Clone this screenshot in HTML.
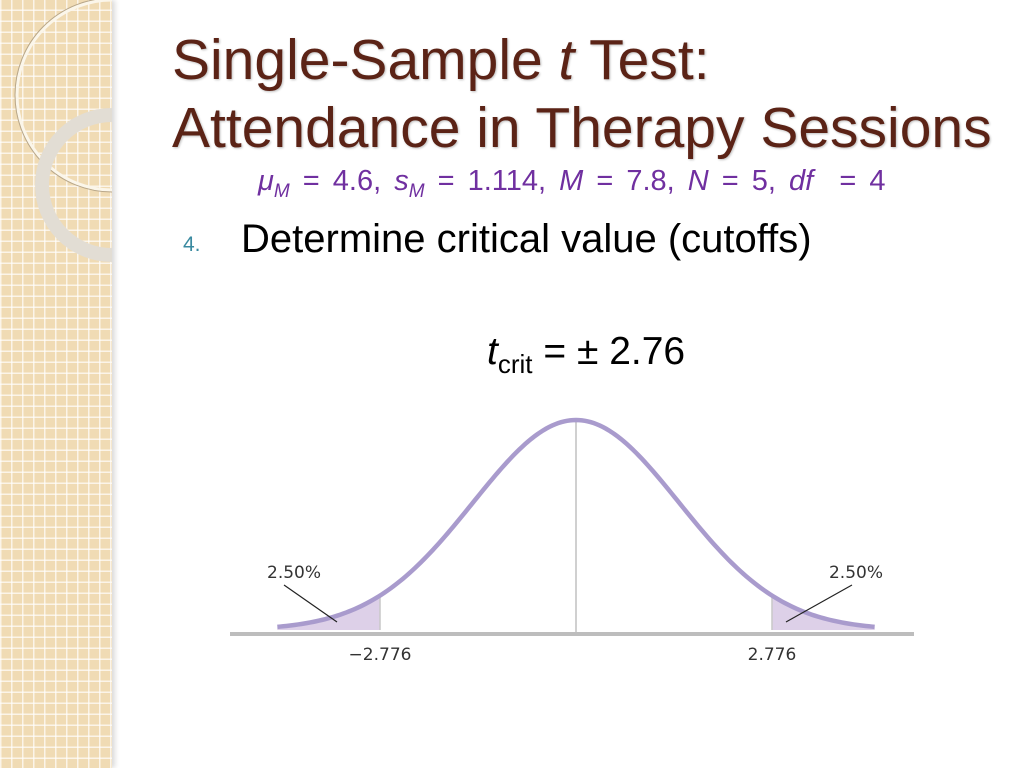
<!DOCTYPE html>
<html><head><meta charset="utf-8"><style>
body{margin:0;width:1024px;height:768px;overflow:hidden;background:#fff;font-family:"Liberation Sans",sans-serif;position:relative}
.side{position:absolute;left:0;top:0;width:112px;height:768px;background-color:#f0dbb4;
background-image:linear-gradient(90deg,rgba(255,255,255,.7) 1.5px,transparent 1.5px),linear-gradient(0deg,rgba(255,255,255,.7) 1.5px,transparent 1.5px);background-size:11px 11px;box-shadow:3px 0 5px rgba(0,0,0,.15)}
.t{position:absolute;white-space:nowrap}
</style></head><body>
<div class="side">
<svg width="112" height="768" style="position:absolute;left:0;top:0">
<circle cx="112" cy="95" r="95" fill="none" stroke="#fbf6ea" stroke-width="3"/>
<circle cx="112" cy="95" r="97" fill="none" stroke="#b8a78a" stroke-width="1"/>
<circle cx="112" cy="185" r="70" fill="none" stroke="#e2ddd4" stroke-width="14"/>
</svg></div>
<div class="t" style="left:172px;top:26px;font-size:57px;line-height:68px;color:#5b2316;text-shadow:1px 1px 2px rgba(0,0,0,.25)">Single-Sample <i>t</i> Test:<br>Attendance in Therapy Sessions</div>
<div class="t" style="left:258px;top:165px;font-size:29px;word-spacing:5px;color:#7030a0"><i>μ</i><sub style="font-size:19px"><i>M</i></sub> = 4.6, <i>s</i><sub style="font-size:19px"><i>M</i></sub> = 1.114, <i>M</i> = 7.8, <i>N</i> = 5, <i>df</i>&nbsp; = 4</div>
<div class="t" style="left:183px;top:233px;font-size:21px;color:#3a8aa0">4.</div>
<div class="t" style="left:241px;top:217px;font-size:40px;color:#000">Determine critical value (cutoffs)</div>
<div class="t" style="left:487px;top:330px;font-size:39px;color:#000"><i>t</i><sub style="font-size:26px">crit</sub> = ± 2.76</div>
<svg id="chart" width="1024" height="768" style="position:absolute;left:0;top:0"></svg>
<script>
const tCrit=[-2.776,2.776];
const tailPct=["2.50%","2.50%"];
const critLabels=["\u22122.776","2.776"];
const tRange=[-4.23,4.23];
const NS="http://www.w3.org/2000/svg";
const svg=document.getElementById("chart");
const cx=576,base=630,peak=420,pxPerT=70.6,sig=1.46;
const X=t=>cx+t*pxPerT;
const dens=t=>Math.exp(-t*t/(2*sig*sig));
const Y=t=>base-(base-peak)*dens(t);
function mk(tag,a){const e=document.createElementNS(NS,tag);for(const k in a)e.setAttribute(k,a[k]);svg.appendChild(e);return e;}
tCrit.forEach((c,i)=>{
 const end=c<0?tRange[0]:tRange[1];let d="M"+X(c)+","+base;
 for(let k=0;k<=40;k++){const t=c+(end-c)*k/40;d+=" L"+X(t)+","+Y(t);}
 d+=" L"+X(end)+","+base+"Z";
 const p=mk("path",{d:d,fill:"#ddd0e8"});
 
 
 const l=mk("line",{x1:X(c),x2:X(c),y1:Y(c),y2:base,stroke:"#c8c8c8","stroke-width":1.5});
 
 
});
const ax=mk("line",{x1:230,x2:914,y1:634,y2:634,stroke:"#bdbdbd","stroke-width":4});


const ml=mk("line",{x1:cx,x2:cx,y1:Y(0),y2:632,stroke:"#c0c0c0","stroke-width":1.5});


let d="";for(let k=0;k<=200;k++){const t=tRange[0]+(tRange[1]-tRange[0])*k/200;d+=(k?" L":"M")+X(t)+","+Y(t);}
const cv=mk("path",{d:d,fill:"none",stroke:"#a99bcd","stroke-width":4.5});


tCrit.forEach((c,i)=>{
 const lx=c<0?X(c)-86:X(c)+84;
 const tx=mk("text",{x:lx,y:578,"font-size":17,"text-anchor":"middle",fill:"#333","font-family":"DejaVu Sans, sans-serif"});
 tx.textContent=tailPct[i];
 
 
 const sx=c<0?lx-10:lx-4, ex=c<0?X(c)-43:X(c)+14;
 const ln=mk("line",{x1:sx,y1:585,x2:ex,y2:622,stroke:"#222","stroke-width":1.2});
 
 
 const cl=mk("text",{x:X(c),y:660,"font-size":17,"text-anchor":"middle",fill:"#333","font-family":"DejaVu Sans, sans-serif"});
 cl.textContent=critLabels[i];
 
 
});
</script>
</body></html>
